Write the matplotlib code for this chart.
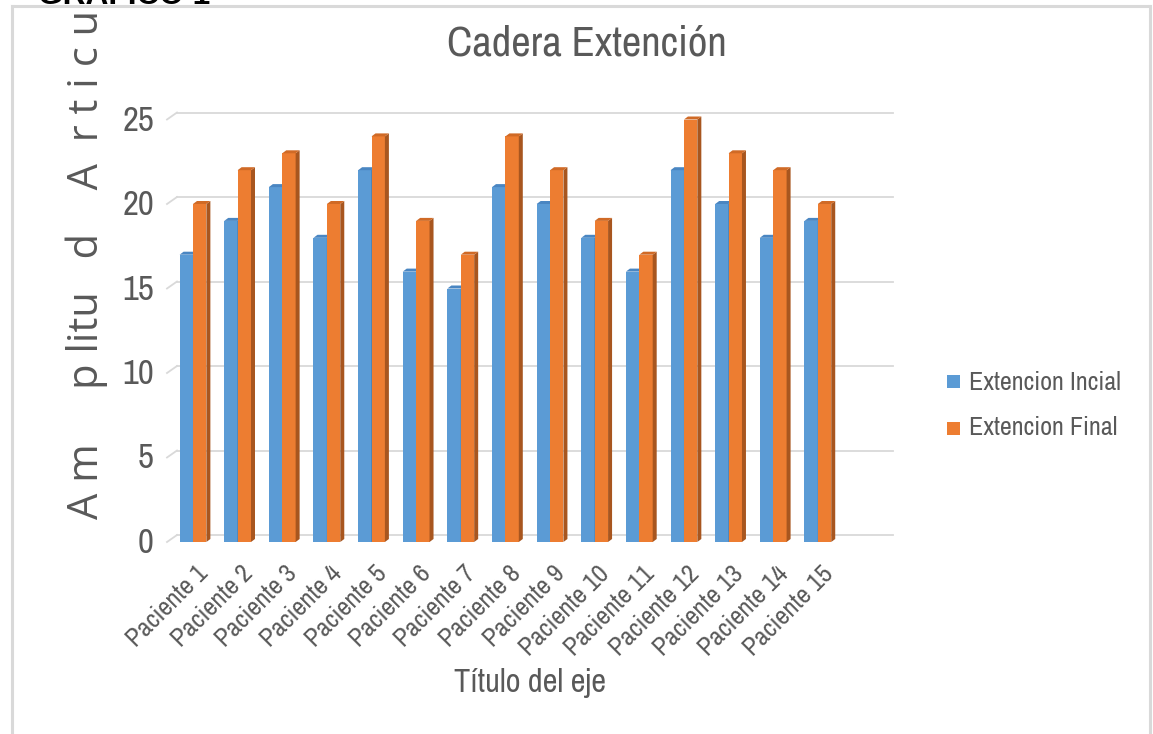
import matplotlib
matplotlib.use("Agg")
import matplotlib.pyplot as plt
from matplotlib import font_manager as fm
from matplotlib.patches import Polygon, Rectangle
from matplotlib.lines import Line2D
from matplotlib.transforms import Bbox, TransformedBbox, ScaledTranslation

# ---- data -------------------------------------------------------------
pacientes = [f"Paciente {i}" for i in range(1, 16)]
extension_inicial = [17, 19, 21, 18, 22, 16, 15, 21, 20, 18, 16, 22, 20, 18, 19]
extension_final = [20, 22, 23, 20, 24, 19, 17, 24, 22, 19, 17, 25, 23, 22, 20]
serie_nombres = ["Extencion Incial", "Extencion Final"]
y_ticks = [0, 5, 10, 15, 20, 25]

titulo = "Cadera Extención"
titulo_x = "Título del eje"
titulo_y = "A m     p litu   d    A  r t i c u l a r"
encabezado = "GRÁFICO 1"

# ---- styling ----------------------------------------------------------
W, H = 1153, 734
GREY_TXT = "#595959"
GRID = "#D9D9D9"
FRONT = ["#5B9BD5", "#ED7D31"]
SIDE = ["#3F6F9C", "#A8561F"]
TOP = ["#4A86C2", "#D06A26"]


def pick_narrow():
    """Prefer a narrow/condensed face if one is installed."""
    for f in fm.fontManager.ttflist:
        if "Narrow" in f.name or "Condensed" in f.name:
            return f.name, "normal"
    for f in fm.fontManager.ttflist:
        if str(f.stretch) in ("condensed", "semi-condensed", "extra-condensed"):
            return f.name, f.stretch
    return "Liberation Sans", "normal"


NARROW, STRETCH = pick_narrow()
names = {f.name for f in fm.fontManager.ttflist}
PLAIN = "Open Sans" if "Open Sans" in names else "DejaVu Sans"
NKW = dict(family=NARROW, fontstretch=STRETCH)


def fx(x):
    return x / W


def fy(y):
    return 1 - y / H


fig = plt.figure(figsize=(W / 100, H / 100), dpi=100)
fig.patch.set_facecolor("white")
renderer = fig.canvas.get_renderer()


def fit_width(txt, target_px):
    bb = txt.get_window_extent(renderer)
    txt.set_fontsize(txt.get_fontsize() * target_px / bb.width)


# front plane of the plot area, in pixels
left_px, right_px, base_px = 167, 883, 542
px_per_unit = 16.9
ymax = 26
top_px = base_px - ymax * px_per_unit
ax = fig.add_axes([fx(left_px), fy(base_px), (right_px - left_px) / W,
                   (base_px - top_px) / H])
xlo, xhi = -0.582, 15.46
ax.set_xlim(xlo, xhi)
ax.set_ylim(0, ymax)
for s in ax.spines.values():
    s.set_visible(False)
ax.set_facecolor("none")

ux = (xhi - xlo) / (right_px - left_px)  # data units per pixel
uy = ymax / (base_px - top_px)

# back-wall gridlines with the short receding edge on the left
back_dx, back_dy = 10 * ux, 7 * uy
x_back_end = xlo + (893 - left_px) * ux
for v in y_ticks:
    ax.add_line(Line2D([xlo, xlo + back_dx], [v, v + back_dy], color=GRID,
                       lw=1.3, clip_on=False, zorder=1))
    ax.add_line(Line2D([xlo + back_dx, x_back_end], [v + back_dy] * 2,
                       color=GRID, lw=1.3, clip_on=False, zorder=1))

# bars with a shallow 3D depth
w = 0.30
dx, dy = 4 * ux, 3 * uy
xs = list(range(len(pacientes)))
for k, serie in enumerate([extension_inicial, extension_final]):
    offs = -w / 2 if k == 0 else w / 2
    bars = ax.bar([x + offs for x in xs], serie, w, color=FRONT[k],
                  zorder=3 + 2 * k, linewidth=0)
    for r in bars:
        x0 = r.get_x()
        x1 = x0 + r.get_width()
        h = r.get_height()
        ax.add_patch(Polygon([(x1, 0), (x1 + dx, dy), (x1 + dx, h + dy), (x1, h)],
                             closed=True, facecolor=SIDE[k], lw=0,
                             zorder=3 + 2 * k))
        ax.add_patch(Polygon([(x0, h), (x1, h), (x1 + dx, h + dy), (x0 + dx, h + dy)],
                             closed=True, facecolor=TOP[k], lw=0,
                             zorder=3 + 2 * k))

# y ticks
ax.set_yticks(y_ticks)
ax.set_yticklabels([str(v) for v in y_ticks], fontsize=25, color=GREY_TXT, **NKW)
ax.tick_params(axis="y", length=0, pad=9.4)
for lab in ax.get_yticklabels():
    lab.set_transform(lab.get_transform() + ScaledTranslation(0, 0.02, fig.dpi_scale_trans))

# x ticks
ax.set_xticks(xs)
ax.set_xticklabels(pacientes, fontsize=19, color=GREY_TXT, rotation=45,
                   ha="right", va="top", rotation_mode="anchor", **NKW)
ax.tick_params(axis="x", length=0, pad=14)
for lab in ax.get_xticklabels():
    lab.set_transform(lab.get_transform() + ScaledTranslation(0.03, 0, fig.dpi_scale_trans))

# titles
t_main = fig.text(fx(587), fy(43), titulo, ha="center", va="center", fontsize=30,
                  color=GREY_TXT, **NKW)
fit_width(t_main, 280)
t_x = fig.text(fx(530), fy(683), titulo_x, ha="center", va="center", fontsize=24,
               color=GREY_TXT, **NKW)
fit_width(t_x, 152)
ylab = fig.text(fx(87), fy(519), titulo_y, rotation=90, ha="left", va="center",
                rotation_mode="anchor", fontsize=30, color=GREY_TXT, family=PLAIN)
ylab.set_clip_box(TransformedBbox(Bbox.from_extents(0, 0, 1, fy(7)), fig.transFigure))
ylab.set_clip_on(True)

# legend
leg_txt = []
for k, (nombre, yc) in enumerate(zip(serie_nombres, [382, 428])):
    fig.patches.append(Rectangle((fx(947), fy(yc + 6.5)), 13 / W, 13 / H,
                                 transform=fig.transFigure, facecolor=FRONT[k],
                                 lw=0))
    leg_txt.append(fig.text(fx(969), fy(yc), nombre, ha="left", va="center",
                            fontsize=21, color=GREY_TXT, **NKW))
fit_width(leg_txt[0], 152)
leg_txt[1].set_fontsize(leg_txt[0].get_fontsize())

# heading partly above the chart frame
head = fig.text(fx(38), fy(4), encabezado, ha="left", va="baseline", fontsize=28,
                fontweight="bold", color="black", family="Liberation Sans", zorder=1)
fit_width(head, 172)

# chart frame
frame_kw = dict(color=GRID, lw=2.2, transform=fig.transFigure, zorder=5)
fig.lines.append(Line2D([fx(11.5), fx(11.5)], [fy(6), 0], **frame_kw))
fig.lines.append(Line2D([fx(11.5), fx(1150)], [fy(6), fy(6)], **frame_kw))
fig.lines.append(Line2D([fx(1150), fx(1150)], [fy(6), 0], **frame_kw))

fig.savefig("out.png", dpi=100, facecolor="white")
